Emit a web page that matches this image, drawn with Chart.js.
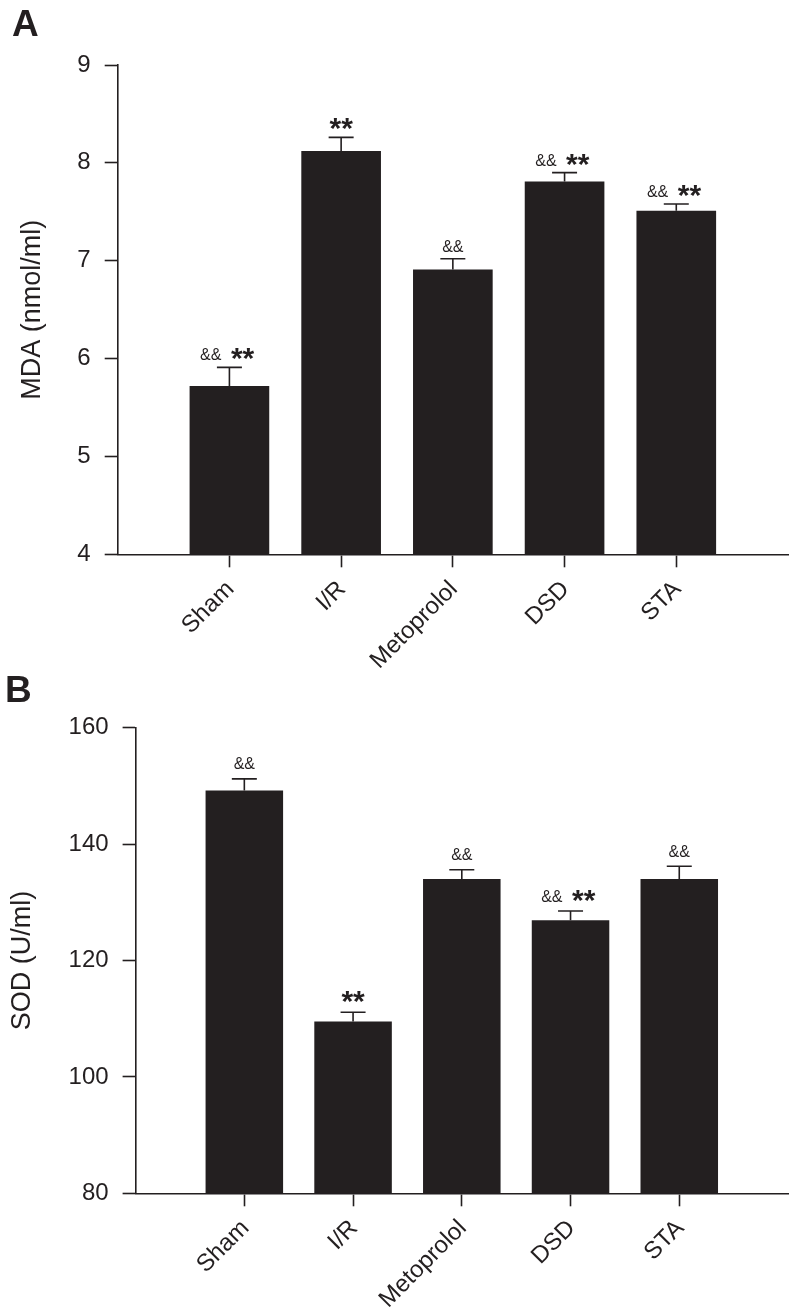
<!DOCTYPE html>
<html><head><meta charset="utf-8">
<script src="https://cdn.jsdelivr.net/npm/chart.js@4/dist/chart.umd.min.js"></script>
<style>
html,body{margin:0;padding:0;background:#fff;}
#wrap{position:relative;width:794px;height:1314px;background:#fff;}
.panel{position:absolute;left:0;width:794px;}
</style></head><body>
<div id="wrap">
<div class="panel" style="top:0;height:700px"><canvas id="cA" width="794" height="700"></canvas></div>
<div class="panel" style="top:660px;height:654px"><canvas id="cB" width="794" height="654"></canvas></div>
</div>
<script>
// ---- data ----
const categories = ['Sham', 'I/R', 'Metoprolol', 'DSD', 'STA'];
const mdaMean = [5.72, 8.12, 6.91, 7.81, 7.51];
const mdaSem  = [0.19, 0.14, 0.11, 0.09, 0.07];
const mdaMarks = ['&& **', '**', '&&', '&& **', '&& **'];
const mdaTicks = [4, 5, 6, 7, 8, 9];
const sodMean = [149.2, 109.5, 134.0, 126.9, 134.0];
const sodSem  = [2.0, 1.6, 1.6, 1.6, 2.2];
const sodMarks = ['&&', '**', '&&', '&& **', '&&'];
const sodTicks = [80, 100, 120, 140, 160];

const INK = '#231f20';
const FAM = "'Liberation Sans', Arial, Helvetica, sans-serif";
Chart.defaults.font.family = FAM;
Chart.defaults.color = INK;

function overlay(letter, letterX, letterY, means, sems, marks, gap) {
  return {
    id: 'overlay',
    afterDatasetsDraw(chart) {
      const ctx = chart.ctx, xs = chart.scales.x, ys = chart.scales.y;
      ctx.save();
      ctx.fillStyle = INK;
      ctx.strokeStyle = INK;
      means.forEach((m, i) => {
        const x = xs.getPixelForValue(i + 1);
        const y0 = ys.getPixelForValue(m);
        const y1 = ys.getPixelForValue(m + sems[i]);
        ctx.lineWidth = 1.6;
        ctx.beginPath();
        ctx.moveTo(x, y0); ctx.lineTo(x, y1);
        ctx.moveTo(x - 12.5, y1); ctx.lineTo(x + 12.5, y1);
        ctx.stroke();
        const mk = marks[i];
        const amp = mk.includes('&&'), star = mk.includes('**');
        const base = y1 - gap;
        ctx.textBaseline = 'alphabetic';
        if (amp) {
          ctx.font = '16px ' + FAM;
          if (star) { ctx.textAlign = 'right'; ctx.fillText('&&', x - 8, base); }
          else { ctx.textAlign = 'center'; ctx.fillText('&&', x, base); }
        }
        if (star) {
          ctx.font = 'bold 30px ' + FAM;
          const mt = ctx.measureText('**');
          const d = mt.actualBoundingBoxDescent;
          const by = base - d;
          if (amp) { ctx.textAlign = 'left'; ctx.fillText('**', x + 1.5, by); }
          else { ctx.textAlign = 'center'; ctx.fillText('**', x, by); }
        }
      });
      ctx.font = 'bold 37px ' + FAM;
      ctx.textAlign = 'left';
      ctx.textBaseline = 'alphabetic';
      ctx.fillText(letter, letterX, letterY);
      ctx.restore();
    }
  };
}

function makeChart(id, cfg) {
  const labels = [''].concat(categories).concat(['']);
  return new Chart(document.getElementById(id), {
    type: 'bar',
    data: {
      labels: labels,
      datasets: [{
        data: [null].concat(cfg.means).concat([null]),
        backgroundColor: INK,
        borderWidth: 0,
        categoryPercentage: 1,
        barPercentage: 0.713
      }]
    },
    options: {
      responsive: false,
      animation: false,
      events: [],
      layout: { padding: { left: 0, top: cfg.top, right: 6, bottom: 0 } },
      plugins: { legend: { display: false }, tooltip: { enabled: false } },
      scales: {
        x: {
          type: 'category',
          offset: false,
          afterFit(s) { s.height = cfg.xh; s.paddingLeft = 0; s.paddingRight = 0; },
          grid: {
            display: true, offset: false, drawOnChartArea: false, drawTicks: true, tickLength: 13,
            tickWidth: 1.6,
            tickColor: (c) => (c.index >= 1 && c.index <= categories.length) ? INK : 'rgba(0,0,0,0)'
          },
          border: { display: true, color: INK, width: 1.6 },
          ticks: {
            autoSkip: false, maxRotation: 45, minRotation: 45, padding: 8, labelOffset: 1,
            font: { size: 24 }, color: INK
          }
        },
        y: {
          min: cfg.ticks[0], max: cfg.ticks[cfg.ticks.length - 1],
          afterFit(s) { s.width = cfg.yw; s.paddingTop = 0; s.paddingBottom = 0; },
          afterBuildTicks(s) { s.ticks = cfg.ticks.map(v => ({ value: v })); },
          grid: { display: true, drawOnChartArea: false, drawTicks: true, tickLength: 13, tickWidth: 1.6, tickColor: INK },
          border: { display: true, color: INK, width: 1.6 },
          ticks: { padding: 14, font: { size: 24 }, color: INK },
          title: {
            display: true, text: cfg.title, color: INK,
            font: { size: 27 }, padding: { top: cfg.tpad, bottom: 0 }
          }
        }
      }
    },
    plugins: [overlay(cfg.letter, cfg.lx, cfg.ly, cfg.means, cfg.sems, cfg.marks, cfg.gap)]
  });
}

makeChart('cA', {
  means: mdaMean, sems: mdaSem, marks: mdaMarks, ticks: mdaTicks,
  title: 'MDA (nmol/ml)', top: 65, xh: 700 - 554.3, yw: 117.7, tpad: 16.8,
  letter: 'A', lx: 12, ly: 36, gap: 7
});
makeChart('cB', {
  means: sodMean, sems: sodSem, marks: sodMarks, ticks: sodTicks,
  title: 'SOD (U/ml)', top: 67.7, xh: 654 - 533.3, yw: 135.6, tpad: 6.3,
  letter: 'B', lx: 5, ly: 41.7, gap: 9.5
});
</script>
</body></html>
